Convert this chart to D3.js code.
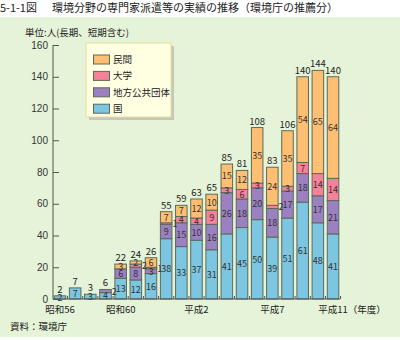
<!DOCTYPE html>
<html>
<head>
<meta charset="utf-8">
<script src="https://cdn.jsdelivr.net/npm/d3@7"></script>
<style>
  body { margin: 0; background: #fff; }
  svg { display: block; font-family: "Noto Sans CJK JP", "Liberation Sans", sans-serif; }
</style>
</head>
<body>
<svg id="chart"></svg>
<script>
// data
const years = ["昭和56","昭和57","昭和58","昭和59","昭和60","昭和61","昭和62","昭和63",
  "平成元","平成2","平成3","平成4","平成5","平成6","平成7","平成8","平成9","平成10","平成11"];
const tickYears = ["昭和56","昭和60","平成2","平成7","平成11"];
const kuni    = [2,7,3,4,13,12,16,38,33,37,31,41,45,50,39,51,61,48,41];
const chiho   = [0,0,0,2,6,8,3,9,15,10,16,26,18,20,18,17,18,17,21];
const daigaku = [0,0,0,0,0,2,1,1,4,4,9,3,6,3,2,3,7,14,14];
const minkan  = [0,0,0,0,3,2,6,7,7,12,10,15,12,35,24,35,54,65,64];
const totals  = [2,7,3,6,22,24,26,55,59,63,65,85,81,108,83,106,140,144,140];
const yTicks  = [0,20,40,60,80,100,120,140,160];

const keys = ["国","地方公共団体","大学","民間"];
const colors = {"国":"#7cc6e2","地方公共団体":"#9b80c2","大学":"#f7809a","民間":"#ffbf72"};

const rows = years.map((y, i) => ({
  year: y, "国": kuni[i], "地方公共団体": chiho[i], "大学": daigaku[i], "民間": minkan[i]
}));

const W = 400, H = 340;
const svg = d3.select("#chart").attr("width", W).attr("height", H);

// green panel
svg.append("rect").attr("x", 0).attr("y", 17).attr("width", W).attr("height", 320)
  .attr("fill", "#e5f3d8");

// title
svg.append("text").attr("x", 0).attr("y", 12).attr("font-size", 11).attr("fill", "#222")
  .text("5-1-1図");
svg.append("text").attr("x", 52).attr("y", 12).attr("font-size", 11).attr("fill", "#222")
  .text("環境分野の専門家派遣等の実績の推移（環境庁の推薦分）");

svg.append("text").attr("x", 25).attr("y", 36).attr("font-size", 9.5).attr("fill", "#222")
  .text("単位:人(長期、短期含む)");

svg.append("text").attr("x", 10).attr("y", 330).attr("font-size", 9.5).attr("fill", "#222")
  .text("資料：環境庁");

const x = d3.scaleBand().domain(years).range([53, 340]).paddingInner(0.24).paddingOuter(0.08);
const y = d3.scaleLinear().domain([0, 160]).range([299, 45]);

// y axis
const yAxis = svg.append("g").attr("transform", "translate(53,0)")
  .call(d3.axisRight(y).tickValues(yTicks).tickSize(6).tickFormat(""));
yAxis.selectAll("line, path").attr("stroke", "#555");
yAxis.select(".domain").attr("d", `M0,${y(0)}V${y(160)}`);
svg.append("g").selectAll("text").data(yTicks).join("text")
  .attr("x", 48).attr("y", d => y(d) + 3.5)
  .attr("text-anchor", "end").attr("font-size", 10).attr("fill", "#333")
  .attr("font-family", "Liberation Sans, sans-serif")
  .text(d => d);

// stacked bars
const stack = d3.stack().keys(keys)(rows);
const barStroke = "#5b6a58";

const layer = svg.append("g").selectAll("g").data(stack).join("g")
  .attr("fill", d => colors[d.key]);
layer.selectAll("rect").data(d => d.filter(s => s[1] > s[0])).join("rect")
  .attr("x", d => x(d.data.year))
  .attr("width", x.bandwidth())
  .attr("y", d => y(d[1]))
  .attr("height", d => y(d[0]) - y(d[1]))
  .attr("stroke", barStroke).attr("stroke-width", 1);

// segment labels
const lab = svg.append("g").attr("font-size", 9).attr("fill", "#333");
stack.forEach(s => {
  s.forEach(d => {
    const v = d[1] - d[0];
    if (v <= 0) return;
    const side = v <= 2 && (s.key === "大学" || s.key === "地方公共団体");
    lab.append("text")
      .attr("x", side ? x(d.data.year) + x.bandwidth() + 0.5 : x(d.data.year) + x.bandwidth() / 2)
      .attr("y", y((d[0] + d[1]) / 2) + 3.5)
      .attr("text-anchor", side ? "start" : "middle")
      .text(v);
  });
});

// totals
svg.append("g").selectAll("text").data(years).join("text")
  .attr("x", d => x(d) + x.bandwidth() / 2)
  .attr("y", (d, i) => y(d3.sum(keys, k => rows[i][k])) - 3)
  .attr("text-anchor", "middle").attr("font-size", 9.5).attr("fill", "#222")
  .text((d, i) => totals[i]);

// x baseline + small ticks between bars
svg.append("line").attr("x1", 53).attr("x2", 340).attr("y1", y(0)).attr("y2", y(0))
  .attr("stroke", "#555");
const gap = x.step() * x.paddingInner() / 2;
svg.append("g").selectAll("line").data(years).join("line")
  .attr("x1", d => x(d) + x.bandwidth() + gap).attr("x2", d => x(d) + x.bandwidth() + gap)
  .attr("y1", y(0)).attr("y2", y(0) - 3)
  .attr("stroke", "#555");

// x labels
const xl = svg.append("g").attr("font-size", 9.5).attr("fill", "#222");
tickYears.forEach(t => {
  const cx = x(t) + x.bandwidth() / 2;
  const tx = xl.append("text").attr("x", cx).attr("y", 313).attr("text-anchor", "middle").text(t);
  if (t === "平成11") {
    const w = tx.node().getComputedTextLength();
    xl.append("text").attr("x", cx + w / 2).attr("y", 313).text("（年度）");
  }
});

// legend
const lg = svg.append("g");
lg.append("rect").attr("x", 89).attr("y", 46).attr("width", 85).attr("height", 74).attr("fill", "#c4c8bc");
lg.append("rect").attr("x", 86).attr("y", 43).attr("width", 85).attr("height", 74)
  .attr("fill", "#ffffe2").attr("stroke", "#e6dc96");
const legendKeys = ["民間","大学","地方公共団体","国"];
legendKeys.forEach((k, i) => {
  const cy = 59.5 + i * 16.4;
  lg.append("rect").attr("x", 93.5).attr("y", cy - 4.5).attr("width", 16).attr("height", 9)
    .attr("fill", colors[k]).attr("stroke", barStroke);
  lg.append("text").attr("x", 113).attr("y", cy + 3.5).attr("font-size", 9.5).attr("fill", "#222").text(k);
});
</script>
</body>
</html>
